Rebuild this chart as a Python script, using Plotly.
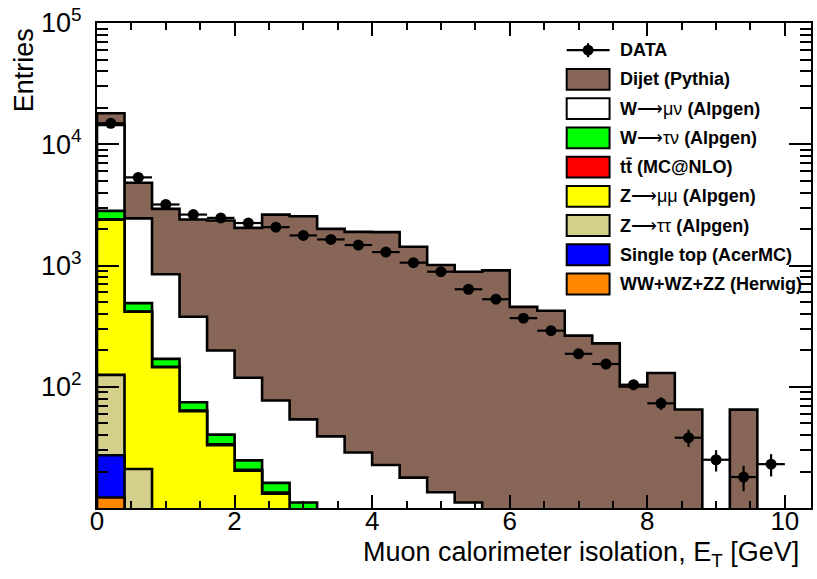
import numpy as np
import plotly.graph_objects as go

# ---------------- data ----------------
bin_width = 0.4
n_bins = 26
edges = np.round(np.arange(n_bins + 1) * bin_width, 4)
centers = edges[:-1] + bin_width / 2

data_counts = [14900, 5330, 3185, 2630, 2470, 2240, 2070, 1770, 1640, 1475, 1290, 1055, 889,
               637, 527, 368, 290, 187, 154, 104, 73, 38, 25, 18, 23, 0]

dijet = [3550, 2375, 2082, 2015, 2151, 1926, 2553, 2496, 1967, 1866, 1862, 1408, 996, 878, 903,
         449, 418, 260, 225, 98, 128, 63.5, 0, 64, 0, 0]
w_munu = [11630, 1956, 678, 303, 159, 94, 61, 42.7, 32.5, 24.4, 19.8, 15.9, 12.2, 10.3, 8.0,
          6.5, 5.0, 4.0, 3.0, 2.4, 1.8, 1.4, 1.0, 0.8, 0.6, 0.4]
w_taunu = [426, 72, 24, 10.9, 6.8, 4.0, 2.7, 3.0, 1.8, 1.4, 1.0, 0.7, 0.5, 0.3, 0.2, 0.1, 0.1,
           0, 0, 0, 0, 0, 0, 0, 0, 0]
ttbar = [4, 2, 1.2, 0.8, 0.5, 0.4, 0.3, 0.2, 0.1, 0.1, 0, 0, 0, 0, 0, 0, 0, 0, 0, 0, 0, 0, 0,
         0, 0, 0]
z_mumu = [2265, 394, 138, 60, 31.5, 19.4, 12.6, 7.5, 4.5, 2.8, 1.8, 1.2, 0.8, 0.5, 0.3, 0.2,
          0.1, 0, 0, 0, 0, 0, 0, 0, 0, 0]
z_tautau = [98, 15.5, 4.5, 1.8, 0.9, 0.5, 0.3, 0.2, 0.1, 0, 0, 0, 0, 0, 0, 0, 0, 0, 0, 0, 0, 0,
            0, 0, 0, 0]
single_top = [15, 3.0, 1.2, 0.6, 0.3, 0.2, 0.1, 0.1, 0, 0, 0, 0, 0, 0, 0, 0, 0, 0, 0, 0, 0, 0,
              0, 0, 0, 0]
diboson = [12.2, 2.5, 1.0, 0.5, 0.3, 0.2, 0.1, 0.1, 0, 0, 0, 0, 0, 0, 0, 0, 0, 0, 0, 0, 0, 0,
           0, 0, 0, 0]

# stack order: bottom -> top
stack_series = [diboson, single_top, z_tautau, z_mumu, ttbar, w_taunu, w_munu, dijet]
stack_names = ["WW+WZ+ZZ (Herwig)", "Single top (AcerMC)", "Z→ττ (Alpgen)", "Z→μμ (Alpgen)",
               "tt̄ (MC@NLO)", "W→τν (Alpgen)", "W→μν (Alpgen)", "Dijet (Pythia)"]
stack_labels = ["<b>WW+WZ+ZZ (Herwig)</b>", "<b>Single top (AcerMC)</b>",
                "<b>Z</b>⟶ττ<b> (Alpgen)</b>", "<b>Z</b>⟶μμ<b> (Alpgen)</b>",
                "<b>tt̄ (MC@NLO)</b>", "<b>W</b>⟶τν<b> (Alpgen)</b>",
                "<b>W</b>⟶μν<b> (Alpgen)</b>", "<b>Dijet (Pythia)</b>"]
stack_colors = ["#ff8800", "#0000ff", "#d4cf8a", "#ffff00", "#ff0000", "#00ff00", "#ffffff",
                "#886657"]

y_tick_vals = [1e2, 1e3, 1e4, 1e5]
y_tick_text = ["10<sup>2</sup>", "10<sup>3</sup>", "10<sup>4</sup>", "10<sup>5</sup>"]
x_tick_vals = [0, 2, 4, 6, 8, 10]

# ---------------- figure ----------------
FLOOR = 1e-3
cum = np.cumsum(np.array(stack_series, dtype=float), axis=0)


def step_polygon(vals):
    xs = [edges[0]]
    ys = [FLOOR]
    for i, v in enumerate(vals):
        v = v if v > FLOOR else FLOOR
        xs += [edges[i], edges[i + 1]]
        ys += [v, v]
    xs.append(edges[-1])
    ys.append(FLOOR)
    return xs, ys


fig = go.Figure()
for k in range(len(stack_series) - 1, -1, -1):
    xs, ys = step_polygon(cum[k])
    fig.add_trace(go.Scatter(x=xs, y=ys, mode="lines", fill="toself",
                             fillcolor=stack_colors[k], name=stack_names[k],
                             line=dict(color="black", width=2.6), hoverinfo="skip"))

dc = np.array(data_counts, dtype=float)
mask = dc > 0
fig.add_trace(go.Scatter(
    x=centers[mask], y=dc[mask], mode="markers", name="DATA",
    marker=dict(color="black", size=11),
    error_x=dict(type="constant", value=bin_width / 2, color="black", thickness=2.2, width=0),
    error_y=dict(type="data", array=np.sqrt(dc[mask]), color="black", thickness=2.2, width=0),
))

L, R, T, B = 97, 4, 21, 71
W, H = 817, 579
PW, PH = W - L - R, H - T - B


def px(xp):
    return (xp - L) / PW


def py(yp):
    return (H - B - yp) / PH


FONT = "Liberation Sans, Arial, Helvetica, sans-serif"

fig.update_layout(
    width=W, height=H, margin=dict(l=L, r=R, t=T, b=B, pad=0),
    plot_bgcolor="white", paper_bgcolor="white", showlegend=False,
    font=dict(family=FONT, size=27, color="black"),
)
fig.update_xaxes(
    range=[0, 10.38], tickmode="array", tickvals=x_tick_vals, ticks="inside", ticklen=13,
    tickwidth=1.5, tickcolor="black", showline=True, linewidth=2, linecolor="black",
    mirror="allticks", showgrid=False, zeroline=False, tickfont=dict(size=26),
    ticklabelstandoff=-11,
    minor=dict(dtick=0.5, tick0=0, ticks="inside", ticklen=7, tickwidth=1.5,
               tickcolor="black", showgrid=False),
)
minor_y = [m * 10 ** d for d in range(1, 5) for m in range(2, 10)]
fig.update_yaxes(
    type="log", range=[1, 5], tickmode="array", tickvals=y_tick_vals, ticktext=y_tick_text,
    ticks="inside", ticklen=22, tickwidth=1.5, tickcolor="black", showline=True, linewidth=2,
    linecolor="black", mirror="allticks", showgrid=False, zeroline=False,
    tickfont=dict(size=27), ticklabelstandoff=8,
    minor=dict(tickmode="array", tickvals=minor_y, ticks="inside", ticklen=11, tickwidth=1.5,
               tickcolor="black", showgrid=False),
)

# axis titles (ROOT style: aligned to the end of the axis)
fig.add_annotation(text="Muon calorimeter isolation, E<sub>T</sub> [GeV]", xref="paper",
                   yref="paper", x=px(803), y=py(554), xanchor="right", yanchor="middle",
                   showarrow=False, font=dict(size=27, family=FONT))
fig.add_annotation(text="Entries", textangle=-90, xref="paper", yref="paper", x=px(24),
                   y=py(24), xanchor="center", yanchor="top", showarrow=False,
                   font=dict(size=27, family=FONT))

# manual ROOT-like legend
row0, drow = 48.3, 29.35
bx0, bx1, bh = 568, 611, 21
tx = 619
# DATA entry
yc = row0
fig.add_shape(type="line", xref="paper", yref="paper", x0=px(bx0), x1=px(bx1), y0=py(yc),
              y1=py(yc), line=dict(color="black", width=2.2))
fig.add_shape(type="line", xref="paper", yref="paper", x0=px(589.5), x1=px(589.5),
              y0=py(yc - 7), y1=py(yc + 7), line=dict(color="black", width=2.2))
fig.add_shape(type="circle", xref="paper", yref="paper", x0=px(584), x1=px(595),
              y0=py(yc + 5.5), y1=py(yc - 5.5), fillcolor="black", line=dict(color="black", width=0))
fig.add_annotation(text="<b>DATA</b>", xref="paper", yref="paper", x=px(tx), y=py(yc),
                   xanchor="left", yanchor="middle", showarrow=False,
                   font=dict(size=18, family=FONT))
for j, k in enumerate(range(len(stack_series) - 1, -1, -1)):
    yc = row0 + drow * (j + 1)
    fig.add_shape(type="rect", xref="paper", yref="paper", x0=px(bx0), x1=px(bx1),
                  y0=py(yc + bh / 2), y1=py(yc - bh / 2), fillcolor=stack_colors[k],
                  line=dict(color="black", width=2))
    fig.add_annotation(text=stack_labels[k], xref="paper", yref="paper", x=px(tx), y=py(yc),
                       xanchor="left", yanchor="middle", showarrow=False,
                       font=dict(size=18, family=FONT))

fig.write_html("out.html")
